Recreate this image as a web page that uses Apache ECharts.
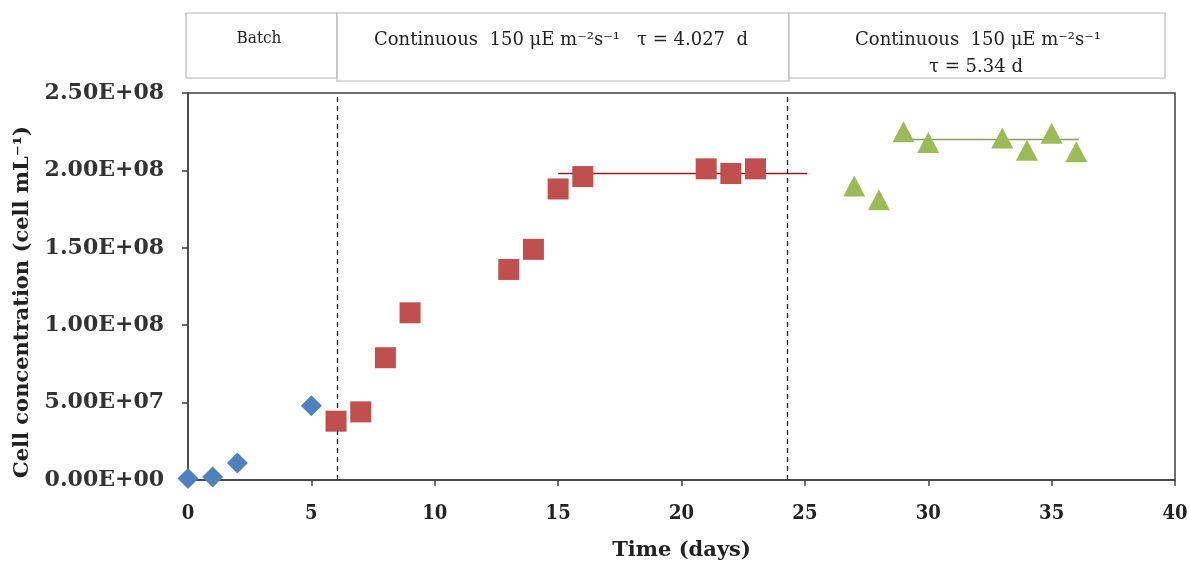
<!DOCTYPE html>
<html><head><meta charset="utf-8">
<script src="https://cdn.jsdelivr.net/npm/echarts@6/dist/echarts.min.js"></script>
<style>html,body{margin:0;padding:0;background:#fff}#c{width:1190px;height:563px}</style>
</head><body><div id="c"></div>
<script>
// Data
const batchDays = [0, 1, 2, 5];
const batchValues = [0.1e7, 0.2e7, 1.1e7, 4.8e7];
const cont1Days = [6, 7, 8, 9, 13, 14, 15, 16, 21, 22, 23];
const cont1Values = [3.8e7, 4.4e7, 7.9e7, 10.8e7, 13.6e7, 14.9e7, 18.8e7, 19.6e7, 20.1e7, 19.8e7, 20.1e7];
const cont2Days = [27, 28, 29, 30, 33, 34, 35, 36];
const cont2Values = [19.0e7, 18.1e7, 22.5e7, 21.8e7, 22.1e7, 21.3e7, 22.4e7, 21.2e7];
const cont1MeanLine = [[15, 1.98e8], [25.1, 1.98e8]];
const cont2MeanLine = [[28.7, 2.2e8], [36.1, 2.2e8]];
const phaseBoundaries = [6.05, 24.3];
const phaseLabels = ['Batch', 'Continuous  150 μE m⁻²s⁻¹   τ = 4.027  d', 'Continuous  150 μE m⁻²s⁻¹'];
const phaseLabel3b = 'τ = 5.34 d';
const yAxisTitle = 'Cell concentration (cell mL⁻¹)';

const zip = (a, b) => a.map((v, i) => [v, b[i]]);
function fmtE(v) {
  if (v === 0) return '0.00E+00';
  const e = Math.floor(Math.log10(Math.abs(v)));
  const m = v / Math.pow(10, e);
  return m.toFixed(2) + 'E+' + String(e).padStart(2, '0');
}
const serif = '"DejaVu Serif", "Liberation Serif", serif';
const serifC = '"DejaVu Serif Condensed", "DejaVu Serif", serif';
const chart = echarts.init(document.getElementById('c'));
const boxStyle = { fill: '#fff', stroke: '#b8b8b8', lineWidth: 1.2 };
const txtStyle = { fill: '#222', font: '18px ' + serif, textAlign: 'center', textVerticalAlign: 'middle' };
chart.setOption({
  animation: false,
  backgroundColor: '#fff',
  grid: { left: 188, right: 15, top: 93, bottom: 83, outerBoundsMode: 'none', containLabel: false,
    show: true, borderColor: '#404040', borderWidth: 1.5, backgroundColor: 'transparent' },
  xAxis: {
    type: 'value', min: 0, max: 40, interval: 5,
    name: 'Time (days)', nameLocation: 'middle', nameGap: 60,
    nameTextStyle: { fontFamily: serif, fontWeight: 'bold', fontSize: 21, color: '#222' },
    axisLine: { show: true, lineStyle: { color: '#404040', width: 1.5 } },
    axisTick: { show: true, inside: false, length: 6, lineStyle: { color: '#404040', width: 1.5 } },
    axisLabel: { fontFamily: serifC, fontWeight: 'bold', fontSize: 20, color: '#222', margin: 24 },
    splitLine: { show: false }
  },
  yAxis: {
    type: 'value', min: 0, max: 2.5e8, interval: 5e7,
    axisLine: { show: true, lineStyle: { color: '#404040', width: 1.5 } },
    axisTick: { show: true, inside: false, length: 6, lineStyle: { color: '#404040', width: 1.5 } },
    axisLabel: { fontFamily: serif, fontWeight: 'bold', fontSize: 22, color: '#333', margin: 24, formatter: fmtE },
    splitLine: { show: false }
  },
  series: [
    { type: 'scatter', data: zip(batchDays, batchValues), symbol: 'diamond', symbolSize: [21, 21],
      itemStyle: { color: '#4F81BD', opacity: 1 }, z: 5 },
    { type: 'scatter', data: zip(cont1Days, cont1Values), symbol: 'rect', symbolSize: [21, 21],
      itemStyle: { color: '#C0504D', opacity: 1 }, z: 5 },
    { type: 'scatter', data: zip(cont2Days, cont2Values), symbol: 'triangle', symbolSize: [22, 21],
      itemStyle: { color: '#9BBB59', opacity: 1 }, z: 5 },
    { type: 'line', data: cont1MeanLine, symbol: 'none', lineStyle: { color: '#9B1C1C', width: 1.5 }, z: 4 },
    { type: 'line', data: cont2MeanLine, symbol: 'none', lineStyle: { color: '#8C9A70', width: 1.5 }, z: 4 },
    { type: 'line', data: [], symbol: 'none',
      markLine: { silent: true, symbol: 'none', label: { show: false },
        lineStyle: { color: '#222', type: [5, 4], width: 1.3 },
        data: phaseBoundaries.map(v => ({ xAxis: v })) } }
  ],
  graphic: [
    { type: 'rect', shape: { x: 186, y: 13, width: 151, height: 65 }, style: boxStyle },
    { type: 'rect', shape: { x: 337, y: 13, width: 452, height: 68 }, style: boxStyle },
    { type: 'rect', shape: { x: 789, y: 13, width: 376, height: 65 }, style: boxStyle },
    { type: 'text', x: 259, y: 39, style: Object.assign({}, txtStyle, { text: phaseLabels[0], font: '17px ' + serifC }) },
    { type: 'text', x: 561, y: 40, style: Object.assign({}, txtStyle, { text: phaseLabels[1] }) },
    { type: 'text', x: 978, y: 40, style: Object.assign({}, txtStyle, { text: phaseLabels[2] }) },
    { type: 'text', x: 976, y: 67, style: Object.assign({}, txtStyle, { text: phaseLabel3b }) },
    { type: 'text', x: 23, y: 302, rotation: Math.PI / 2,
      style: { text: yAxisTitle, fill: '#222', font: 'bold 21px ' + serif, textAlign: 'center', textVerticalAlign: 'middle' } }
  ]
});
</script></body></html>
